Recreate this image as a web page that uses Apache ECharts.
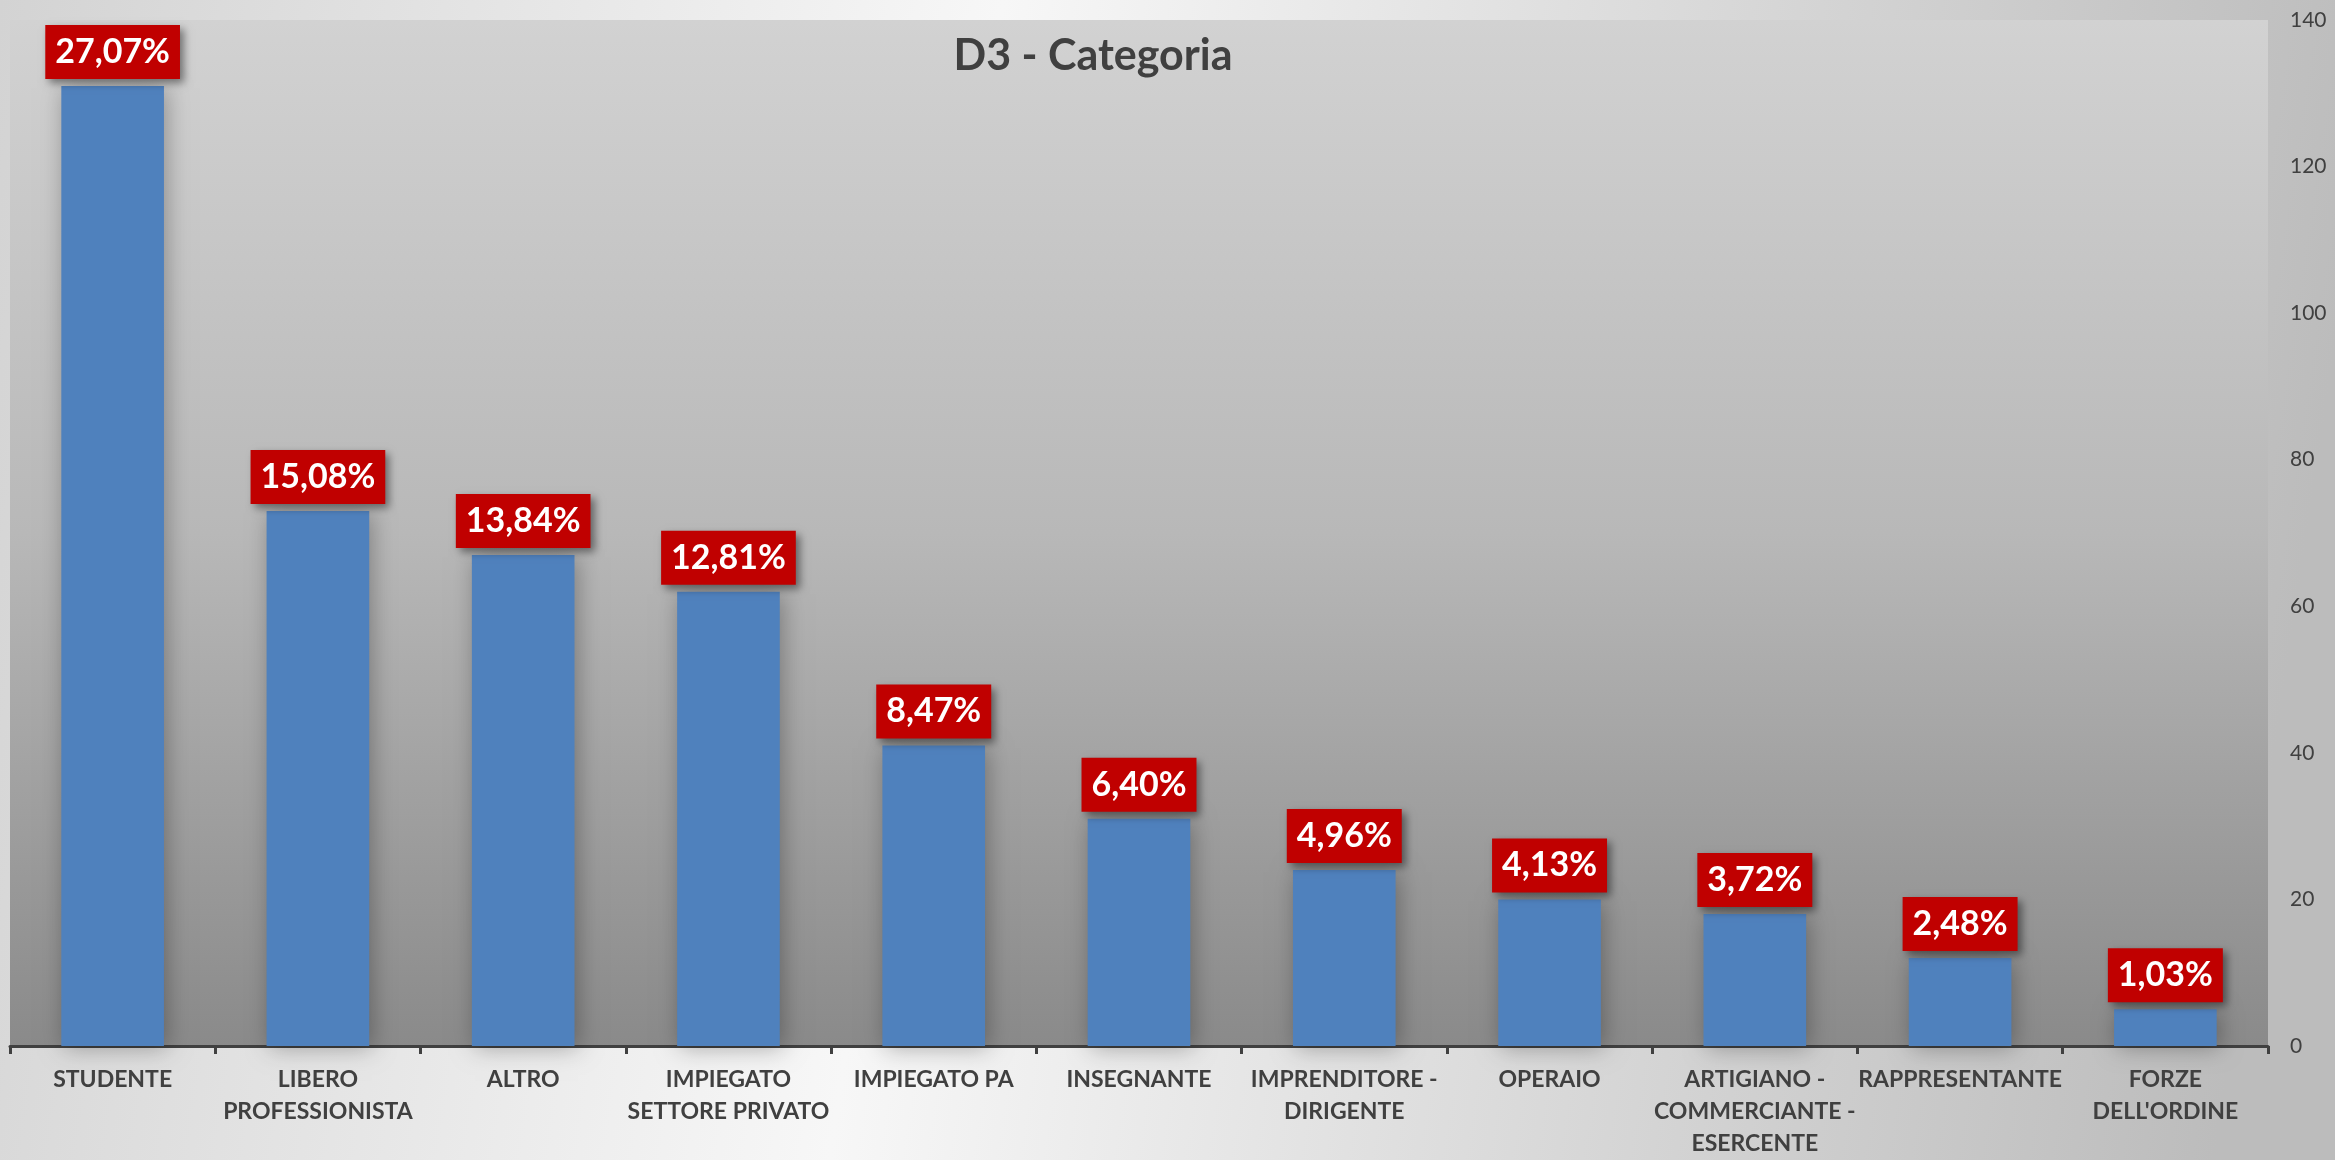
<!DOCTYPE html>
<html>
<head>
<meta charset="utf-8">
<script src="https://cdn.jsdelivr.net/npm/echarts@6/dist/echarts.min.js"></script>
<style>
html,body{margin:0;padding:0;background:#ddd;}
#chart{width:2335px;height:1160px;}
</style>
</head>
<body>
<div id="chart"></div>
<script>
const categories = [
  "STUDENTE",
  "LIBERO\nPROFESSIONISTA",
  "ALTRO",
  "IMPIEGATO\nSETTORE PRIVATO",
  "IMPIEGATO PA",
  "INSEGNANTE",
  "IMPRENDITORE -\nDIRIGENTE",
  "OPERAIO",
  "ARTIGIANO -\nCOMMERCIANTE -\nESERCENTE",
  "RAPPRESENTANTE",
  "FORZE\nDELL'ORDINE"
];
const counts = [131, 73, 67, 62, 41, 31, 24, 20, 18, 12, 5];
const percentLabels = ["27,07%", "15,08%", "13,84%", "12,81%", "8,47%", "6,40%", "4,96%", "4,13%", "3,72%", "2,48%", "1,03%"];
const yTicks = { min: 0, max: 140, interval: 20 };
const titleText = "D3 - Categoria";

const FONT = 'Lato, "Open Sans", "Noto Sans", sans-serif';
const chart = echarts.init(document.getElementById('chart'));
chart.setOption({
  animation: false,
  backgroundColor: new echarts.graphic.LinearGradient(0, 0, 1, 0.3, [
    { offset: 0, color: '#d3d3d3' },
    { offset: 0.42, color: '#f7f7f7' },
    { offset: 1, color: '#bcbcbc' }
  ]),
  title: {
    text: titleText,
    left: 1088,
    top: 30,
    textAlign: 'center',
    textStyle: { fontFamily: FONT, fontWeight: 'bold', fontSize: 43, color: '#404040' }
  },
  grid: {
    left: 10, right: 67, top: 20, bottom: 111,
    show: true,
    borderWidth: 0,
    backgroundColor: new echarts.graphic.LinearGradient(0, 0, 0, 1, [
      { offset: 0, color: '#d2d2d2' },
      { offset: 0.5, color: '#b8b8b8' },
      { offset: 1, color: '#8a8a8a' }
    ])
  },
  xAxis: {
    type: 'category',
    data: categories,
    axisLine: { lineStyle: { color: '#404040', width: 3 } },
    axisTick: { show: true, length: 8, lineStyle: { color: '#404040', width: 3 } },
    axisLabel: {
      interval: 0,
      margin: 18,
      fontFamily: FONT,
      fontWeight: 'bold',
      fontSize: 23,
      lineHeight: 32,
      color: '#404040'
    }
  },
  yAxis: {
    type: 'value',
    position: 'right',
    min: yTicks.min, max: yTicks.max, interval: yTicks.interval,
    splitLine: { show: false },
    axisLine: { show: false },
    axisTick: { show: false },
    axisLabel: { margin: 22, fontFamily: FONT, fontSize: 21, color: '#404040' }
  },
  series: [{
    type: 'bar',
    data: counts,
    barWidth: '50%',
    itemStyle: {
      color: '#4f81bd',
      shadowColor: 'rgba(0,0,0,0.3)',
      shadowBlur: 22,
      shadowOffsetX: 3,
      shadowOffsetY: 2
    },
    label: {
      show: true,
      position: 'top',
      distance: 7,
      formatter: p => percentLabels[p.dataIndex],
      fontFamily: FONT,
      fontWeight: 'bold',
      fontSize: 34,
      lineHeight: 40,
      color: '#ffffff',
      backgroundColor: '#c00000',
      padding: [7, 10, 7, 10],
      shadowColor: 'rgba(0,0,0,0.45)',
      shadowBlur: 8,
      shadowOffsetX: 4,
      shadowOffsetY: 4
    }
  }]
});
</script>
</body>
</html>
